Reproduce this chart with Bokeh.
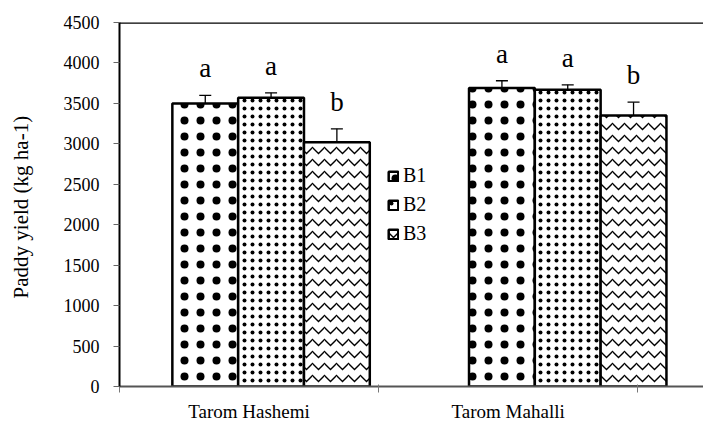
import numpy as np
from bokeh.plotting import figure
from bokeh.models import (ColumnDataSource, Range1d, FixedTicker, Whisker, Legend,
                          LegendItem, Span)
from bokeh.core.properties import value
from bokeh.embed import file_html
from bokeh.resources import INLINE

# ---- data ----
cultivars = ["Tarom Hashemi", "Tarom Mahalli"]
series = ["B1", "B2", "B3"]
group_pos = [0.585, 1.73]          # group centres on the category axis
yield_b1 = [3500, 3690]
yield_b2 = [3570, 3670]
yield_b3 = [3020, 3350]
err_b1 = [100, 90]
err_b2 = [60, 60]
err_b3 = [165, 165]
letters_b1 = ["a", "a"]
letters_b2 = ["a", "a"]
letters_b3 = ["b", "b"]
y_ticks = [0, 500, 1000, 1500, 2000, 2500, 3000, 3500, 4000, 4500]

FONT = "'Liberation Serif', 'Times New Roman', serif"
bar_w = 0.254
offsets = [-bar_w, 0.0, bar_w]
hatches = [dict(hatch_pattern="dot", hatch_scale=16, hatch_weight=9, hatch_color="black"),
           dict(hatch_pattern="dot", hatch_scale=8, hatch_weight=1.2, hatch_color="black"),
           dict(hatch_pattern="horizontal_wave", hatch_scale=12, hatch_weight=1.3, hatch_color="black")]

p = figure(width=703, height=424, output_backend="svg", toolbar_location=None,
           x_range=Range1d(0, 2.254), y_range=Range1d(0, 4500),
           min_border_left=119, min_border_right=0, min_border_top=22, min_border_bottom=38)
p.outline_line_color = None
p.xgrid.visible = False
p.ygrid.visible = False
p.background_fill_color = "white"

vals = [yield_b1, yield_b2, yield_b3]
errs = [err_b1, err_b2, err_b3]
lets = [letters_b1, letters_b2, letters_b3]
items = []
for i, s in enumerate(series):
    xs = [g + offsets[i] for g in group_pos]
    src = ColumnDataSource(dict(x=xs, top=vals[i],
                                lo=[v - e for v, e in zip(vals[i], errs[i])],
                                hi=[v + e for v, e in zip(vals[i], errs[i])],
                                lab=lets[i]))
    r = p.vbar(x="x", top="top", width=bar_w, source=src, fill_color="white",
               line_color="black", line_width=2.5, **hatches[i])
    items.append(LegendItem(label=s, renderers=[r]))
    w = Whisker(base="x", lower="lo", upper="hi", source=src, line_color="black",
                line_width=1.3)
    w.upper_head.size = 12
    w.lower_head.size = 12
    w.upper_head.line_width = 1.3
    w.lower_head.line_width = 1.3
    p.add_layout(w)
    p.text(x="x", y="hi", text="lab", source=src, text_align="center",
           text_baseline="bottom", y_offset=-12, text_font=value("Liberation Serif"),
           text_font_size="27px", text_color="black")

top_line = Span(location=4500, dimension="width", line_color="black", line_width=2.5)
p.add_layout(top_line)

legend = Legend(items=items, location=(268, 141), padding=0, margin=0,
                border_line_color=None, background_fill_alpha=0,
                glyph_width=12, glyph_height=12, label_height=22, spacing=6,
                label_text_font=FONT, label_text_font_size="20px",
                label_text_color="black", label_standoff=4)
p.add_layout(legend, "center")

# y axis
p.yaxis.ticker = FixedTicker(ticks=y_ticks)
p.yaxis.axis_line_color = "black"
p.yaxis.axis_line_width = 2
p.yaxis.major_tick_in = 0
p.yaxis.major_tick_out = 6
p.yaxis.major_tick_line_color = "#666666"
p.yaxis.minor_tick_line_color = None
p.yaxis.major_label_text_font = FONT
p.yaxis.major_label_text_font_size = "18px"
p.yaxis.major_label_text_color = "black"
p.yaxis.major_label_standoff = 14
p.yaxis.axis_label = "Paddy yield  (kg ha-1)"
p.yaxis.axis_label_text_font = FONT
p.yaxis.axis_label_text_font_size = "21px"
p.yaxis.axis_label_text_font_style = "normal"
p.yaxis.axis_label_text_color = "black"
p.yaxis.axis_label_standoff = 28

# x axis
p.xaxis.ticker = FixedTicker(ticks=[0.5, 1.5], minor_ticks=[0, 1, 2])
p.xaxis.major_label_overrides = {0.5: cultivars[0], 1.5: cultivars[1]}
p.xaxis.axis_line_color = "#555555"
p.xaxis.axis_line_width = 2
p.xaxis.major_tick_line_color = None
p.xaxis.minor_tick_in = 2
p.xaxis.minor_tick_out = 6
p.xaxis.minor_tick_line_color = "#777777"
p.xaxis.major_label_text_font = FONT
p.xaxis.major_label_text_font_size = "19px"
p.xaxis.major_label_text_color = "black"
p.xaxis.major_label_standoff = 8

open("out.html", "w").write(file_html(p, INLINE))
